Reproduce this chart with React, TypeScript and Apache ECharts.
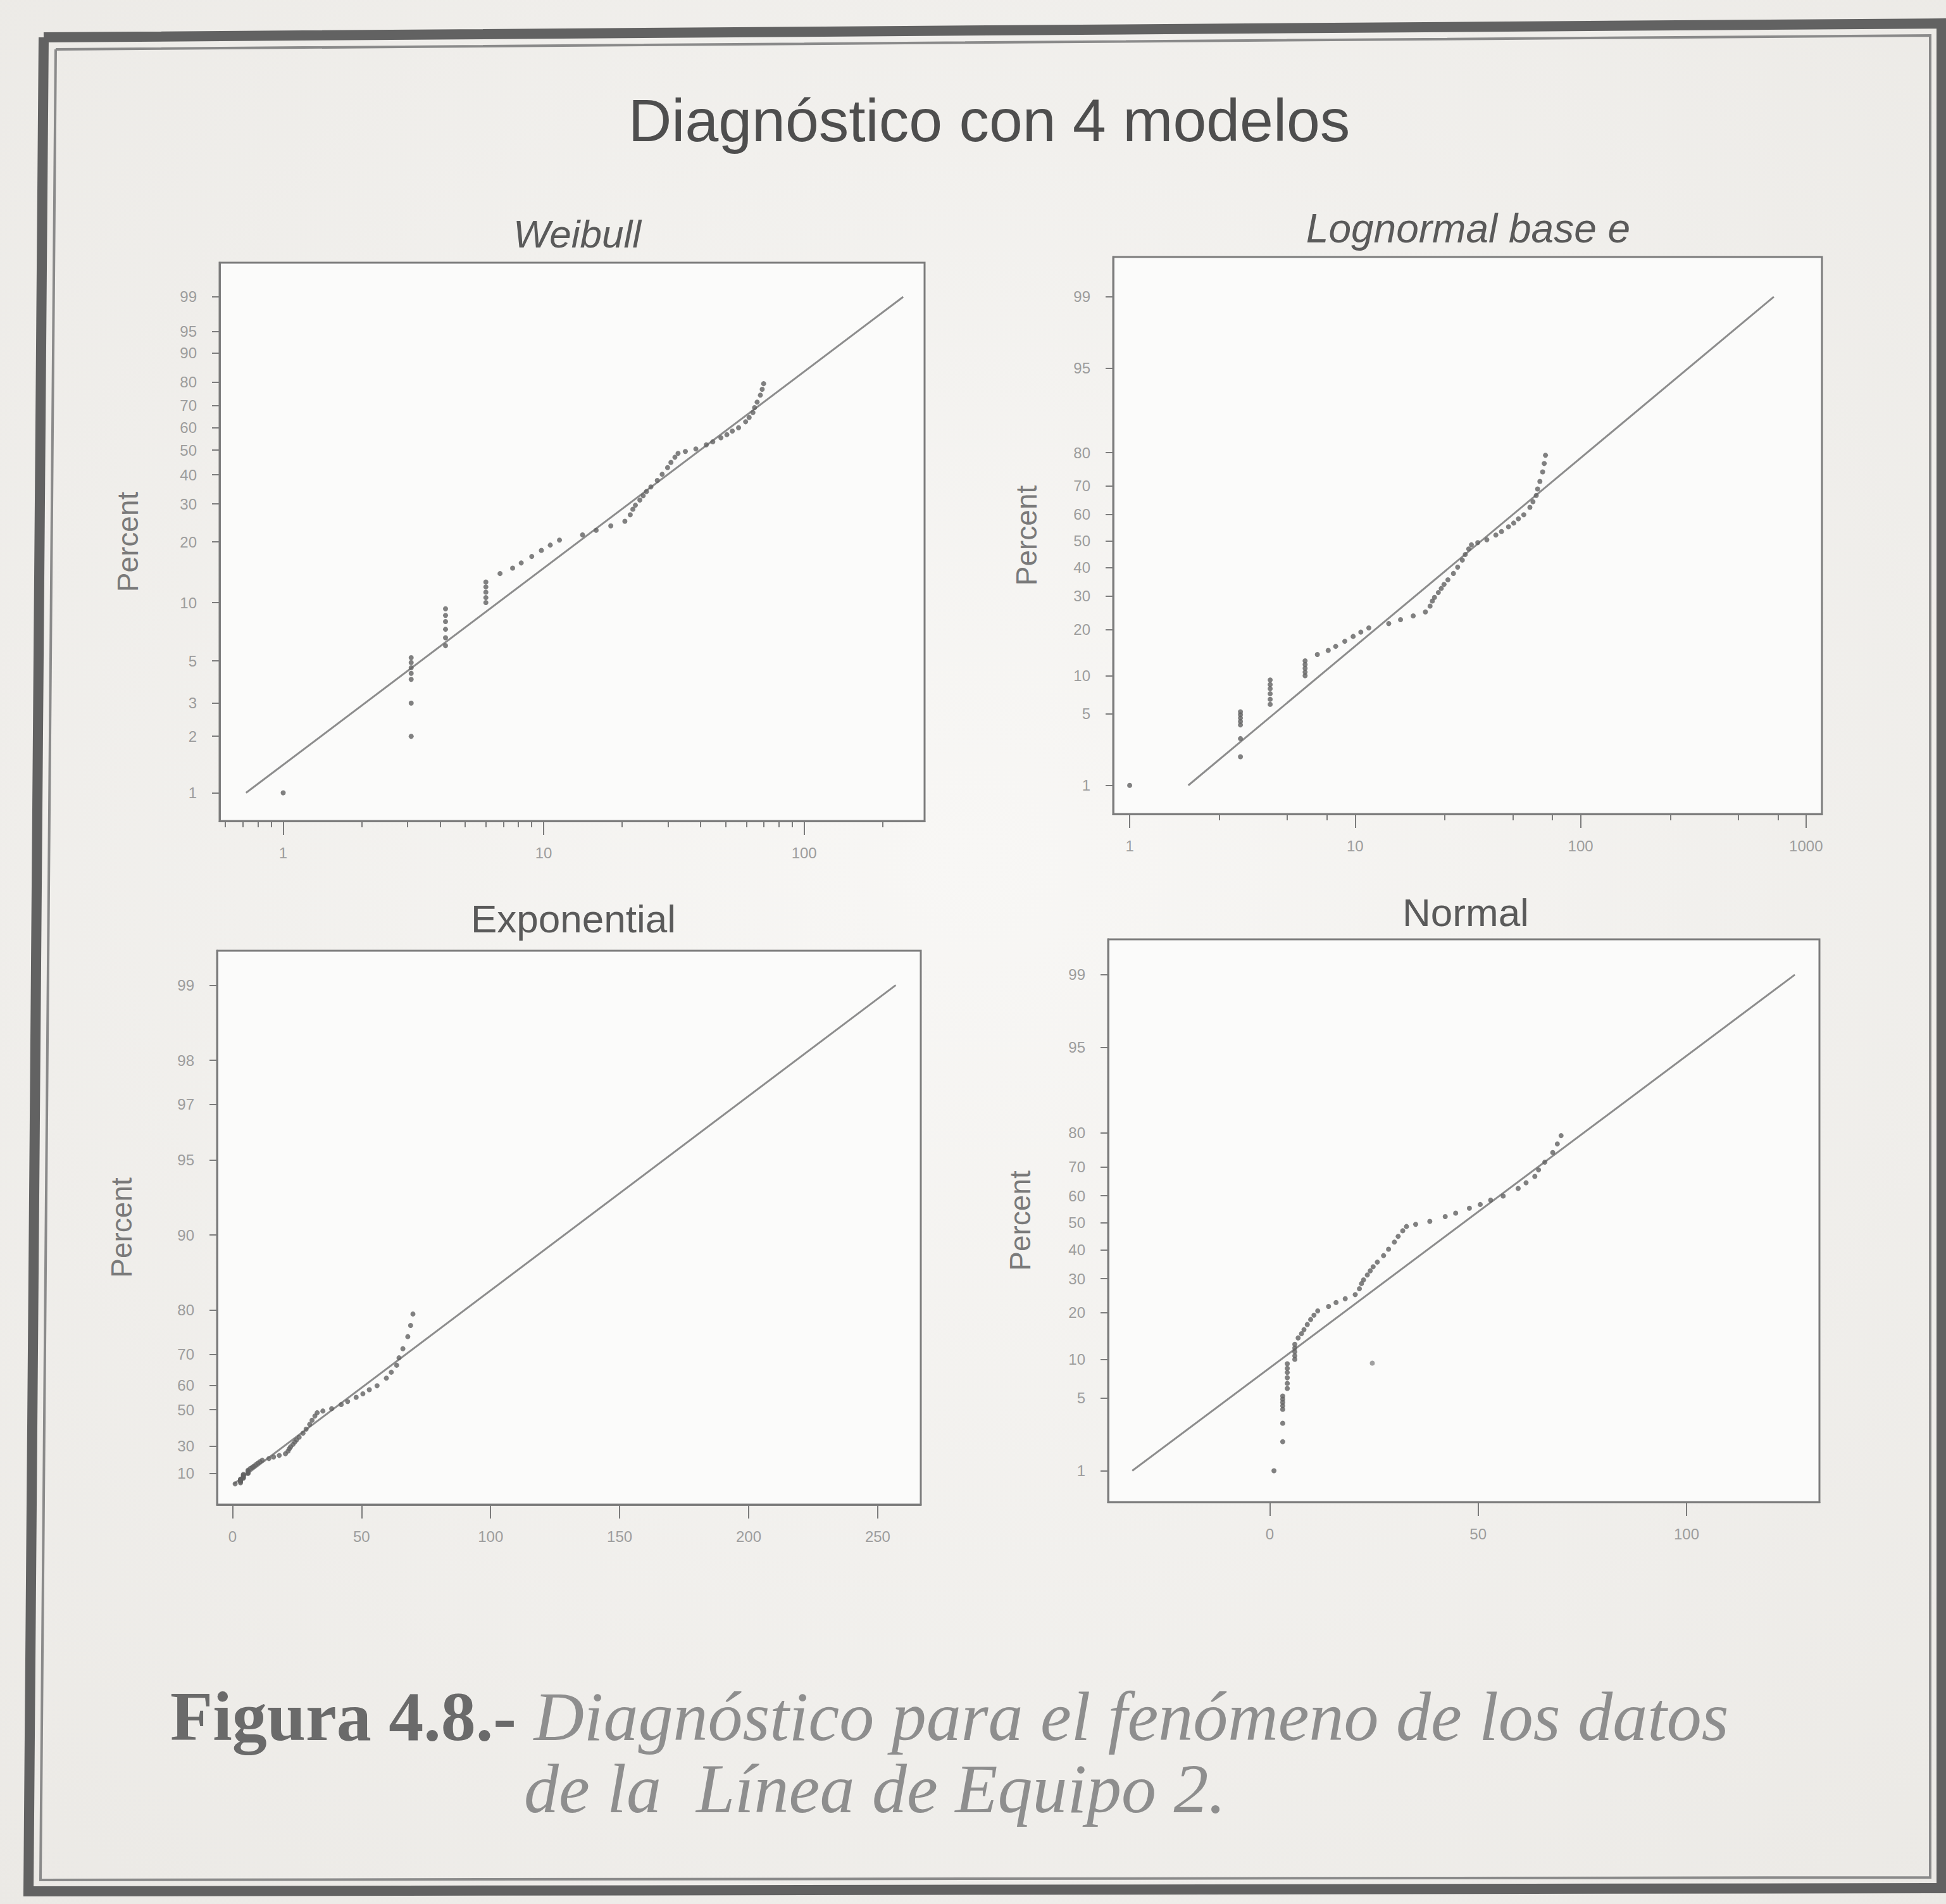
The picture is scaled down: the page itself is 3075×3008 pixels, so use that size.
import React, { useEffect, useRef } from "react";
import * as echarts from "echarts";

// ---- Data (same sample drawn in all four panels) ----
const failureTimes = [
  1.0, 3.1, 3.1, 3.1, 3.1, 3.1, 3.1, 3.1, 4.2, 4.2, 4.2, 4.2, 4.2, 4.2, 6.0, 6.0, 6.0, 6.0, 6.0,
  6.8, 7.6, 8.2, 9.0, 9.8, 10.6, 11.5, 14.1, 15.9, 18.1, 20.5, 21.5, 22.0, 22.5, 23.4, 24.1,
  24.8, 25.8, 27.3, 28.5, 29.9, 30.8, 31.9, 32.8, 35.0, 38.4, 42.1, 44.6, 47.9, 50.5, 53.0,
  56.0, 59.6, 61.5, 63.6, 64.5, 66.0, 67.9, 69.0, 69.9,
];
const plotPercents = [
  1.0, 2.0, 3.0, 4.0, 4.3, 4.6, 4.9, 5.2, 6.0, 6.6, 7.3, 8.0, 8.6, 9.3, 10.0, 10.6, 11.3, 12.0, 12.7,
  14.0, 14.9, 15.8, 17.0, 18.2, 19.3, 20.4, 21.6, 22.7, 23.8, 25.0, 26.8, 28.4, 29.6, 31.2, 32.6,
  34.0, 35.6, 37.9, 40.2, 42.8, 44.9, 47.0, 48.6, 49.4, 50.5, 52.3, 53.6, 55.4, 56.8, 58.4,
  59.9, 62.6, 64.6, 66.8, 69.0, 71.5, 74.5, 77.0, 79.3,
];
const normalStrayPoint = [[24.6, 9.4]];

// fitted lines: [time, percent] end points
const weibullFit = [[0.72, 1], [240, 99]];
const lognormalFit = [[1.82, 1], [720, 99]];
const exponentialFit = [[0.55, 1], [257, 99]];
const normalFit = [[-33, 1], [126, 99]];

// tick labels
const weibullPctTicks = [1, 2, 3, 5, 10, 20, 30, 40, 50, 60, 70, 80, 90, 95, 99];
const lognormalPctTicks = [1, 5, 10, 20, 30, 40, 50, 60, 70, 80, 95, 99];
const exponentialPctTicks = [10, 30, 50, 60, 70, 80, 90, 95, 97, 98, 99];
const normalPctTicks = [1, 5, 10, 20, 30, 40, 50, 60, 70, 80, 95, 99];

const weibullTimeTicks = [1, 10, 100];
const weibullMinorTicks = [0.6, 0.7, 0.8, 0.9, 2, 3, 4, 5, 6, 7, 8, 9, 20, 30, 40, 50, 60, 70, 80, 90, 200];
const lognormalTimeTicks = [1, 10, 100, 1000];
const lognormalMinorTicks = [2.5, 5, 7.5, 25, 50, 75, 250, 500, 750];
const exponentialTimeTicks = [0, 50, 100, 150, 200, 250];
const normalTimeTicks = [0, 50, 100];

const panelTitles = ["Weibull", "Lognormal base e", "Exponential", "Normal"];
const mainTitle = "Diagnóstico con 4 modelos";
const captionBold = "Figura 4.8.- ";
const captionLine1 = "Diagnóstico para el fenómeno de los datos";
const captionLine2 = "de la  Línea de Equipo 2.";

// ---- probability-paper transforms ----
function invNorm(p: number): number {
  const a = [-3.969683028665376e1, 2.209460984245205e2, -2.759285104469687e2, 1.38357751867269e2, -3.066479806614716e1, 2.506628277459239];
  const b = [-5.447609879822406e1, 1.615858368580409e2, -1.556989798598866e2, 6.680131188771972e1, -1.328068155288572e1];
  const c = [-7.784894002430293e-3, -3.223964580411365e-1, -2.400758277161838, -2.549732539343734, 4.374664141464968, 2.938163982698783];
  const d = [7.784695709041462e-3, 3.224671290700398e-1, 2.445134137142996, 3.754408661907416];
  const pl = 0.02425;
  let q: number, r: number;
  if (p < pl) {
    q = Math.sqrt(-2 * Math.log(p));
    return (((((c[0] * q + c[1]) * q + c[2]) * q + c[3]) * q + c[4]) * q + c[5]) / ((((d[0] * q + d[1]) * q + d[2]) * q + d[3]) * q + 1);
  } else if (p <= 1 - pl) {
    q = p - 0.5;
    r = q * q;
    return ((((((a[0] * r + a[1]) * r + a[2]) * r + a[3]) * r + a[4]) * r + a[5]) * q) / (((((b[0] * r + b[1]) * r + b[2]) * r + b[3]) * r + b[4]) * r + 1);
  } else {
    q = Math.sqrt(-2 * Math.log(1 - p));
    return -(((((c[0] * q + c[1]) * q + c[2]) * q + c[3]) * q + c[4]) * q + c[5]) / ((((d[0] * q + d[1]) * q + d[2]) * q + d[3]) * q + 1);
  }
}
const weibY = (p: number) => Math.log(-Math.log(1 - p / 100));
const normY = (p: number) => invNorm(p / 100);
const expoY = (p: number) => -Math.log(1 - p / 100);
const logX = (t: number) => Math.log10(t);
const linX = (t: number) => t;

const GREY_AXIS = "#7c7c7c";
const LABEL = { fontSize: 24, color: "#9d9d9d", fontFamily: "Liberation Sans" };

function pctFormatter(ticks: number[], tf: (p: number) => number) {
  return (v: number) => {
    let best = ticks[0];
    let dist = Infinity;
    for (const t of ticks) {
      const dd = Math.abs(tf(t) - v);
      if (dd < dist) {
        dist = dd;
        best = t;
      }
    }
    return String(best);
  };
}

function yAxisFor(grid: number, ticks: number[], tf: (p: number) => number, min: number, max: number, nameGap: number) {
  const vals = ticks.map(tf);
  return {
    type: "value",
    gridIndex: grid,
    position: "left",
    min,
    max,
    name: "Percent",
    nameLocation: "middle",
    nameRotate: 90,
    nameGap,
    nameTextStyle: { fontSize: 46, color: "#7a7a7a", fontFamily: "Liberation Sans" },
    axisLine: { show: true, onZero: false, lineStyle: { color: GREY_AXIS, width: 3 } },
    axisTick: { show: true, length: 12, customValues: vals, lineStyle: { color: GREY_AXIS, width: 2 } },
    axisLabel: { show: true, margin: 36, customValues: vals, formatter: pctFormatter(ticks, tf), ...LABEL },
    splitLine: { show: false },
  };
}

function xAxisFor(grid: number, ticks: number[], tf: (t: number) => number, min: number, max: number, isLog: boolean) {
  return {
    type: "value",
    gridIndex: grid,
    position: "bottom",
    min,
    max,
    axisLine: { show: true, onZero: false, lineStyle: { color: GREY_AXIS, width: 3 } },
    axisTick: { show: true, length: 22, customValues: ticks.map(tf), lineStyle: { color: GREY_AXIS, width: 2 } },
    axisLabel: {
      show: true,
      margin: 38,
      customValues: ticks.map(tf),
      formatter: (v: number) => (isLog ? String(Math.round(Math.pow(10, v))) : String(Math.round(v))),
      ...LABEL,
    },
    splitLine: { show: false },
  };
}

function minorAxisFor(grid: number, ticks: number[], min: number, max: number) {
  return {
    type: "value",
    gridIndex: grid,
    position: "bottom",
    min,
    max,
    axisLine: { show: false, onZero: false },
    axisTick: { show: true, length: 10, customValues: ticks.map(logX), lineStyle: { color: GREY_AXIS, width: 2 } },
    axisLabel: { show: false },
    splitLine: { show: false },
  };
}

function pts(tf: (t: number) => number, pf: (p: number) => number) {
  return failureTimes.map((t, i) => [tf(t), pf(plotPercents[i])]);
}
function fitPts(fit: number[][], tf: (t: number) => number, pf: (p: number) => number) {
  return fit.map(([t, p]) => [tf(t), pf(p)]);
}

export default function App() {
  const ref = useRef<HTMLDivElement>(null);
  useEffect(() => {
    document.body.style.margin = "0";
    if (!ref.current) return;
    const chart = echarts.init(ref.current, undefined, { renderer: "svg" });

    const grids = [
      { left: 347, top: 415, width: 1114, height: 882 },
      { left: 1759, top: 406, width: 1120, height: 880 },
      { left: 343, top: 1502, width: 1112, height: 875 },
      { left: 1751, top: 1484, width: 1124, height: 889 },
    ].map((g) => ({ ...g, show: true, backgroundColor: "#fbfbfa", borderColor: GREY_AXIS, borderWidth: 3, containLabel: false }));

    const wX = [Math.log10(0.57), Math.log10(290)];
    const lX = [Math.log10(0.845), Math.log10(1177)];

    const scatterStyle = { color: "#626262" };
    const lineStyle = { color: "#8d8d8d", width: 3 };

    const option: any = {
      animation: false,
      backgroundColor: new echarts.graphic.RadialGradient(0.5, 0.45, 0.75, [
        { offset: 0, color: "#f8f7f5" },
        { offset: 1, color: "#ebe9e5" },
      ]),
      grid: grids,
      xAxis: [
        xAxisFor(0, weibullTimeTicks, logX, wX[0], wX[1], true),
        minorAxisFor(0, weibullMinorTicks, wX[0], wX[1]),
        xAxisFor(1, lognormalTimeTicks, logX, lX[0], lX[1], true),
        minorAxisFor(1, lognormalMinorTicks, lX[0], lX[1]),
        xAxisFor(2, exponentialTimeTicks, linX, -6, 266.7, false),
        xAxisFor(3, normalTimeTicks, linX, -38.8, 131.9, false),
      ],
      yAxis: [
        yAxisFor(0, weibullPctTicks, weibY, -4.948, 1.949, 122),
        yAxisFor(1, lognormalPctTicks, normY, -2.599, 2.705, 114),
        yAxisFor(2, exponentialPctTicks, expoY, -0.181, 4.922, 128),
        yAxisFor(3, normalPctTicks, normY, -2.62, 2.658, 116),
      ],
      series: [
        { type: "line", xAxisIndex: 0, yAxisIndex: 0, data: fitPts(weibullFit, logX, weibY), showSymbol: false, lineStyle, z: 2 },
        { type: "scatter", xAxisIndex: 0, yAxisIndex: 0, data: pts(logX, weibY), symbolSize: 8, itemStyle: scatterStyle, z: 3 },
        { type: "line", xAxisIndex: 2, yAxisIndex: 1, data: fitPts(lognormalFit, logX, normY), showSymbol: false, lineStyle, z: 2 },
        { type: "scatter", xAxisIndex: 2, yAxisIndex: 1, data: pts(logX, normY), symbolSize: 8, itemStyle: scatterStyle, z: 3 },
        { type: "line", xAxisIndex: 4, yAxisIndex: 2, data: fitPts(exponentialFit, linX, expoY), showSymbol: false, lineStyle, z: 2 },
        { type: "scatter", xAxisIndex: 4, yAxisIndex: 2, data: pts(linX, expoY), symbolSize: 8, itemStyle: scatterStyle, z: 3 },
        { type: "line", xAxisIndex: 5, yAxisIndex: 3, data: fitPts(normalFit, linX, normY), showSymbol: false, lineStyle, z: 2 },
        { type: "scatter", xAxisIndex: 5, yAxisIndex: 3, data: pts(linX, normY), symbolSize: 8, itemStyle: scatterStyle, z: 3 },
        {
          type: "scatter", xAxisIndex: 5, yAxisIndex: 3,
          data: normalStrayPoint.map(([t, p]) => [t, normY(p)]),
          symbolSize: 8, itemStyle: { color: "#8a8a8a" }, z: 3,
        },
      ],
      graphic: [
        // photographed page frame
        {
          type: "polyline", z: 0, silent: true,
          shape: { points: [[69, 59], [3068, 37], [3068, 2983], [45, 2988], [69, 59]] },
          style: { stroke: "#626262", lineWidth: 16, fill: null },
        },
        {
          type: "polyline", z: 0, silent: true,
          shape: { points: [[88, 78], [3050, 56], [3050, 2966], [64, 2970], [88, 78]] },
          style: { stroke: "#8a8a8a", lineWidth: 4, fill: null },
        },
        {
          type: "text", x: 1563, y: 190, z: 5,
          style: {
            text: mainTitle, fill: "#4e4e4e", font: "95px 'Liberation Sans'",
            align: "center", verticalAlign: "middle", textAlign: "center", textVerticalAlign: "middle",
          },
        },
        ...[
          [912, 369, true, 62],
          [2320, 361, true, 64],
          [906, 1451, false, 62],
          [2316, 1441, false, 62],
        ].map(([x, y, it, fs], i) => ({
          type: "text", x, y, z: 5,
          style: {
            text: panelTitles[i], fill: "#5a5a5a",
            font: `${it ? "italic " : ""}${fs}px 'Liberation Sans'`,
            align: "center", verticalAlign: "middle", textAlign: "center", textVerticalAlign: "middle",
          },
        })),
        {
          type: "text", x: 269, y: 2712, z: 5,
          style: {
            text: `{b|${captionBold}}{i|${captionLine1}}`,
            verticalAlign: "middle", textVerticalAlign: "middle",
            rich: {
              b: { font: "bold 110px 'Liberation Serif'", fill: "#6a6a6a", color: "#6a6a6a" },
              i: { font: "italic 110px 'Liberation Serif'", fill: "#8e8e8e", color: "#8e8e8e" },
            },
          },
        },
        {
          type: "text", x: 828, y: 2826, z: 5,
          style: {
            text: captionLine2, fill: "#8e8e8e", font: "italic 110px 'Liberation Serif'",
            verticalAlign: "middle", textVerticalAlign: "middle",
          },
        },
      ],
    };
    chart.setOption(option);
    return () => chart.dispose();
  }, []);
  return <div ref={ref} style={{ width: 3075, height: 3008 }} />;
}
